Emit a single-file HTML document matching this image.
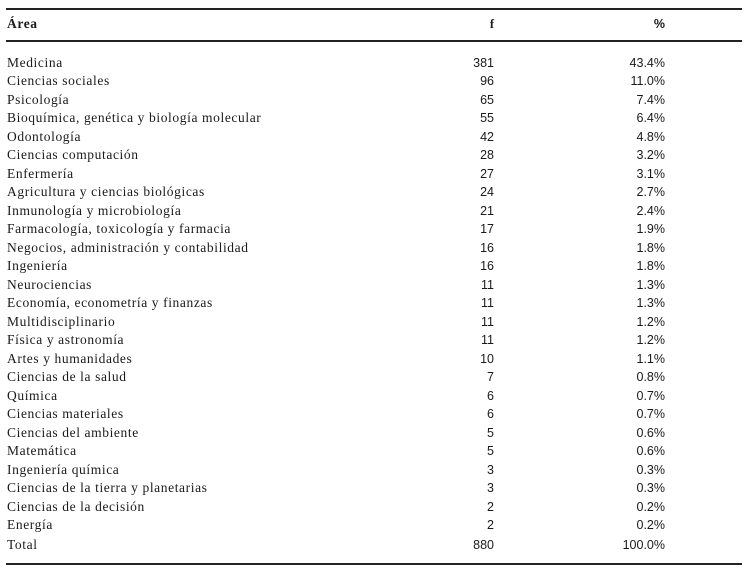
<!DOCTYPE html><html><head><meta charset="utf-8"><style>
body{margin:0;width:750px;height:569px;background:#fff;position:relative;overflow:hidden;color:#1a1a1a}
.l{position:absolute;left:6px;width:736px;height:1.5px;background:#222}
.r{position:absolute;left:0;width:750px;height:18px;line-height:18px;font-size:13.5px}
.a{position:absolute;left:7px;font-family:"Liberation Serif",serif;letter-spacing:0.6px}
.f{position:absolute;right:256px;font-family:"Liberation Sans",sans-serif;font-size:12.5px}
.p{position:absolute;right:85px;font-family:"Liberation Sans",sans-serif;font-size:12.5px}
</style></head><body>
<div class="l" style="top:8px"></div>
<div class="l" style="top:40px"></div>
<div class="l" style="top:563px"></div>
<div class="r" style="top:15px;font-weight:bold"><span class="a" style="font-weight:bold">Área</span><span class="f" style="font-family:'Liberation Serif',serif;font-weight:bold">f</span><span class="p" style="font-weight:bold">%</span></div>
<div id="rows"></div>
<script>
var d=[["Medicina",381,"43.4%"],["Ciencias sociales",96,"11.0%"],["Psicología",65,"7.4%"],["Bioquímica, genética y biología molecular",55,"6.4%"],["Odontología",42,"4.8%"],["Ciencias computación",28,"3.2%"],["Enfermería",27,"3.1%"],["Agricultura y ciencias biológicas",24,"2.7%"],["Inmunología y microbiología",21,"2.4%"],["Farmacología, toxicología y farmacia",17,"1.9%"],["Negocios, administración y contabilidad",16,"1.8%"],["Ingeniería",16,"1.8%"],["Neurociencias",11,"1.3%"],["Economía, econometría y finanzas",11,"1.3%"],["Multidisciplinario",11,"1.2%"],["Física y astronomía",11,"1.2%"],["Artes y humanidades",10,"1.1%"],["Ciencias de la salud",7,"0.8%"],["Química",6,"0.7%"],["Ciencias materiales",6,"0.7%"],["Ciencias del ambiente",5,"0.6%"],["Matemática",5,"0.6%"],["Ingeniería química",3,"0.3%"],["Ciencias de la tierra y planetarias",3,"0.3%"],["Ciencias de la decisión",2,"0.2%"],["Energía",2,"0.2%"],["Total",880,"100.0%"]];
var h="";d.forEach(function(r,i){var y=(i<26?63+i*18.48:545)-9;h+='<div class="r" style="top:'+y+'px"><span class="a">'+r[0]+'</span><span class="f">'+r[1]+'</span><span class="p">'+r[2]+'</span></div>';});
document.getElementById("rows").innerHTML=h;
</script>
</body></html>
